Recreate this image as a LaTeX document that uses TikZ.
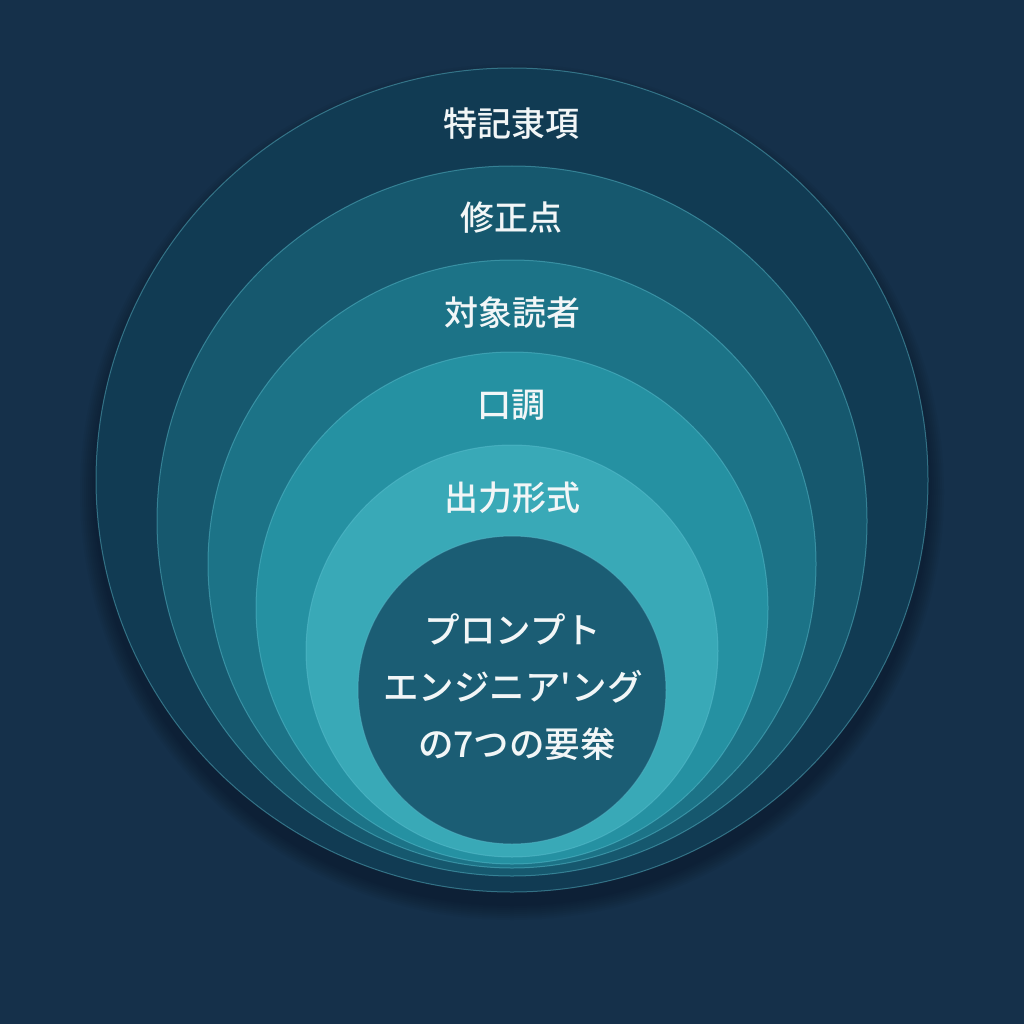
\documentclass[tikz,border=0pt]{standalone}
\usepackage{fontspec}
\newfontfamily\jp{Noto Sans CJK JP}[BoldFont={Noto Sans CJK JP Medium}]
\definecolor{bg}{HTML}{15304A}
\definecolor{cA}{HTML}{113B53}
\definecolor{cB}{HTML}{16586E}
\definecolor{cC}{HTML}{1C7387}
\definecolor{cD}{HTML}{2591A2}
\definecolor{cE}{HTML}{39A9B7}
\definecolor{cF}{HTML}{1B5D74}
\definecolor{rim}{HTML}{5FC3D3}
\definecolor{txt}{HTML}{F2F6F7}
\tikzset{
  ring/.style={draw=rim, draw opacity=0.45, line width=1pt},
  lbl/.style={text=txt, font=\jp\bfseries\fontsize{34}{40}\selectfont, inner sep=0pt},
  ctr/.style={text=txt, font=\jp\bfseries\fontsize{35.5}{57}\selectfont, align=center, inner sep=0pt}
}
\begin{document}
\begin{tikzpicture}[x=1pt,y=-1pt]
\useasboundingbox (0,0) rectangle (1024,1024);
\fill[bg] (0,0) rectangle (1024,1024);
% soft shadow
\foreach \k in {1,...,8}{
  \fill[black, opacity=0.03] (512,492) ellipse ({416+2*\k} and {412+2*\k});
}
\fill[cA, ring] (512,480) ellipse (416 and 412);
\fill[cB, ring] (512,521) circle (355);
\fill[cC, ring] (512,564) circle (304);
\fill[cD, ring] (512,608) circle (256);
\fill[cE, ring] (512,651) circle (206);
\fill[cF, ring] (512,690) circle (154);
\node[lbl] (l1) at (511,124) {特記隶項};
\node[lbl] (l2) at (511,218) {修正点};
\node[lbl] (l3) at (512,313) {対象読者};
\node[lbl] (l4) at (511,405) {口調};
\node[lbl] (l5) at (512,498) {出力形式};
\node[ctr] (core) at (513,687) {プロンプト\\エンジニア'ング\\\ の7つの要桊};
\end{tikzpicture}
\end{document}
